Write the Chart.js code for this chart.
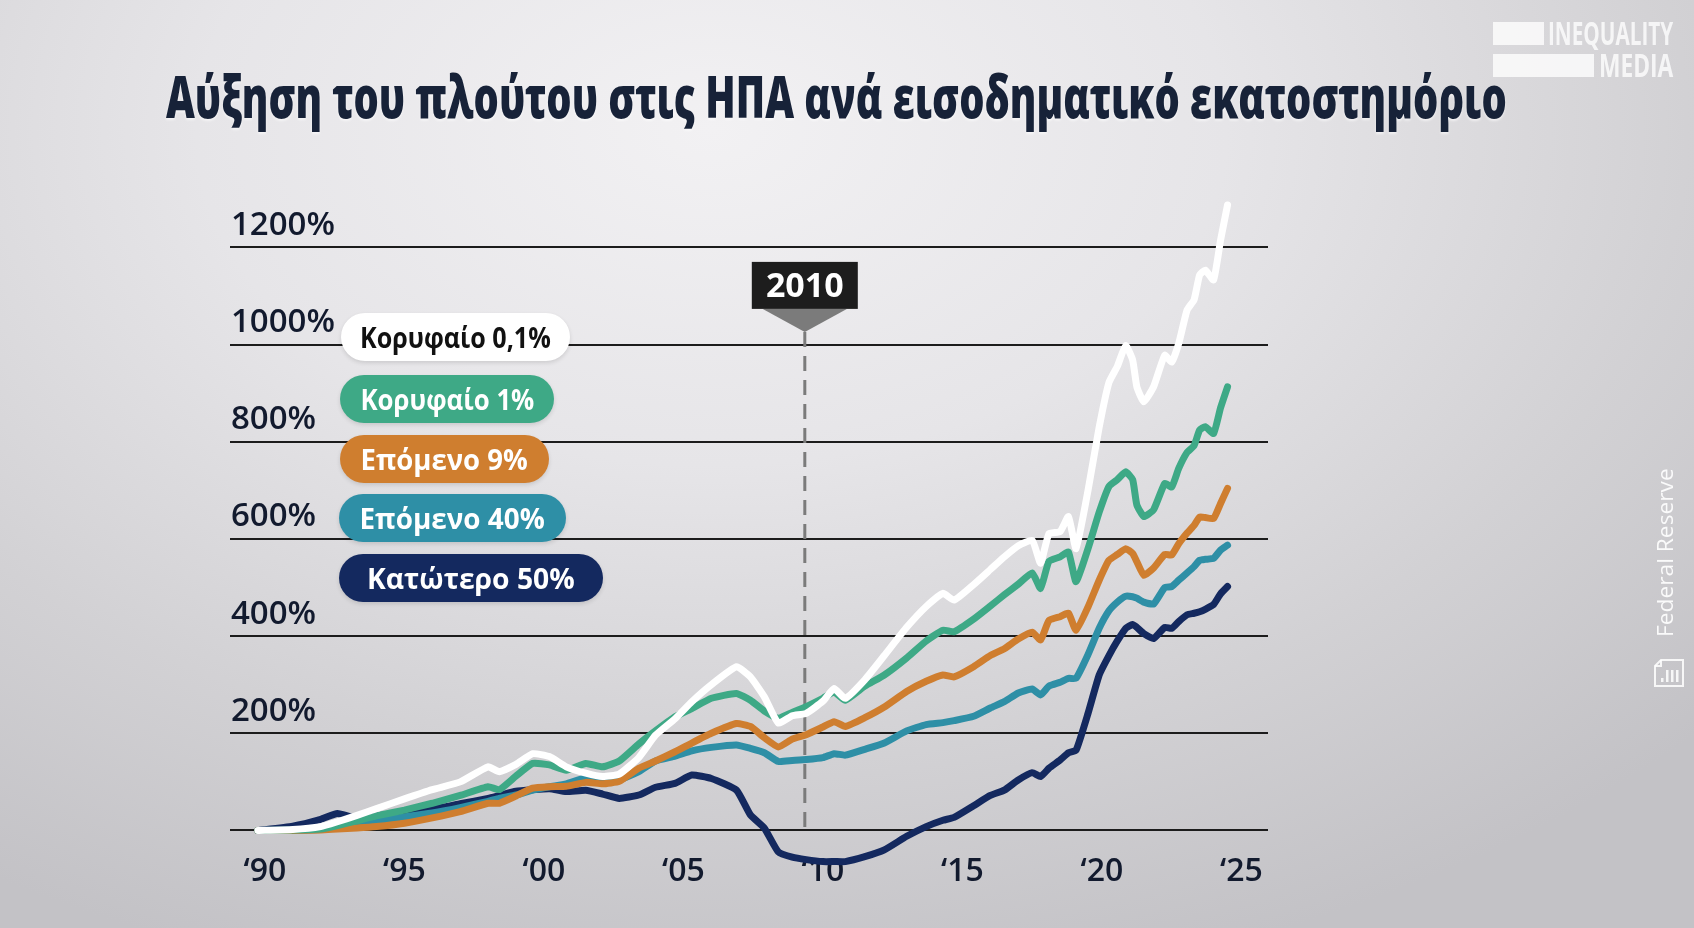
<!DOCTYPE html>
<html lang="el">
<head>
<meta charset="utf-8">
<title>Αύξηση του πλούτου στις ΗΠΑ ανά εισοδηματικό εκατοστημόριο</title>
<script src="https://cdn.jsdelivr.net/npm/chart.js@4.4.1/dist/chart.umd.min.js"></script>
<style>
    html, body { margin: 0; padding: 0; }
    body {
        width: 1694px;
        height: 928px;
        overflow: hidden;
        position: relative;
        font-family: 'Open Sans', 'Noto Sans', sans-serif;
        background: radial-gradient(ellipse 80% 95% at 42% 14%, #f2f1f3 0%, #e6e5e8 38%, #d2d1d4 72%, #c3c2c6 100%);
    }
    #chart { position: absolute; left: 0; top: 0; }
    .fit { display: inline-block; white-space: nowrap; }
    #title {
        position: absolute;
        left: 166px;
        top: 67px;
        font: 800 58px/58px 'Open Sans', sans-serif;
        color: #172238;
        text-shadow: 0 2px 3px rgba(255, 255, 255, 0.6);
        white-space: nowrap;
    }
    .logo-bar { position: absolute; height: 23px; background: rgba(255, 255, 255, 0.78); }
    .logo-text {
        position: absolute;
        font: 700 32px/32px 'Open Sans', sans-serif;
        color: rgba(255, 255, 255, 0.78);
        white-space: nowrap;
    }
    .pill {
        position: absolute;
        height: 48px;
        border-radius: 24px;
        display: flex;
        align-items: center;
        justify-content: center;
        font: 700 28px/48px 'Open Sans', sans-serif;
        box-shadow: 0 2px 4px rgba(0, 0, 0, 0.12);
    }
    #source {
        position: absolute;
        left: 1580px;
        top: 541px;
        width: 169px;
        height: 24px;
        display: flex;
        align-items: center;
        justify-content: center;
        transform: rotate(-90deg);
        font: 400 21px/24px 'Open Sans', sans-serif;
        color: rgba(255, 255, 255, 0.9);
    }
</style>
</head>
<body>
<canvas id="chart" width="1694" height="928" style="width:1694px;height:928px"></canvas>

<div id="title"><span class="fit" id="titleText">Αύξηση του πλούτου στις ΗΠΑ ανά εισοδηματικό εκατοστημόριο</span></div>

<div class="logo-bar" style="left:1493px; top:22px; width:51px"></div>
<div class="logo-text" style="left:1548px; top:17px"><span class="fit" id="logo1">INEQUALITY</span></div>
<div class="logo-bar" style="left:1493px; top:54px; width:101px"></div>
<div class="logo-text" style="left:1599px; top:49px"><span class="fit" id="logo2">MEDIA</span></div>

<div id="legend"></div>

<div id="source"><span class="fit" id="sourceText">Federal Reserve</span></div>
<svg style="position:absolute; left:1652px; top:658px" width="34" height="30" viewBox="0 0 34 30">
    <g fill="none" stroke="rgba(255,255,255,0.85)" stroke-width="2">
        <path d="M9 2 H31 V28 H3 V8 Z"/>
        <path d="M3 8 H9 V2"/>
    </g>
    <g fill="rgba(255,255,255,0.85)">
        <rect x="9" y="20" width="2.5" height="4"/>
        <rect x="14" y="12" width="2.5" height="12"/>
        <rect x="19" y="12" width="2.5" height="12"/>
        <rect x="24" y="12" width="2.5" height="12"/>
    </g>
</svg>

<script>
const years = [1989.75, 1991, 1992, 1992.6, 1993.3, 1994, 1995, 1996, 1997, 1998,
    1998.4, 1999, 1999.6, 2000.2, 2000.8, 2001.5, 2002.1, 2002.7, 2003.4, 2004,
    2004.7, 2005.3, 2006, 2006.9, 2007.4, 2007.9, 2008.4, 2008.9, 2009.4, 2010,
    2010.4, 2010.8, 2011.5, 2012.2, 2013, 2013.7, 2014.3, 2014.7, 2015.4, 2016,
    2016.5, 2017, 2017.5, 2017.8, 2018.1, 2018.5, 2018.8, 2019.07, 2019.5, 2019.9,
    2020.25, 2020.55, 2020.85, 2021.1, 2021.25, 2021.5, 2021.85, 2022.25, 2022.5, 2022.75,
    2023.05, 2023.3, 2023.5, 2023.7, 2024, 2024.25, 2024.5];

const top01 = [0, 2, 8, 18, 31, 45, 65, 84, 100, 131,
    121, 136, 158, 152, 131, 118, 111, 116, 150, 196,
    230, 265, 300, 337, 316, 275, 221, 236, 241, 266,
    292, 272, 310, 360, 418, 461, 488, 474, 506, 537,
    563, 586, 597, 550, 611, 615, 646, 580, 700, 830,
    922, 955, 998, 968, 913, 882, 913, 978, 964, 1002,
    1071, 1092, 1143, 1153, 1133, 1215, 1287];

const top1 = [0, 1, 3, 10, 20, 30, 42, 56, 72, 90,
    84, 112, 138, 135, 124, 138, 131, 143, 178, 205,
    234, 251, 272, 282, 268, 246, 231, 243, 255, 272,
    285, 268, 297, 320, 355, 390, 412, 409, 435, 462,
    485, 507, 530, 498, 554, 563, 573, 512, 580, 655,
    708, 722, 738, 722, 670, 646, 660, 714, 707, 745,
    778, 792, 824, 831, 817, 870, 913];

const next9 = [0, 0, 1, 3, 5, 8, 15, 26, 39, 56,
    56, 71, 87, 90, 91, 99, 96, 101, 128, 143,
    162, 180, 200, 220, 214, 191, 172, 188, 197, 213,
    224, 214, 232, 254, 286, 307, 320, 316, 337, 360,
    374, 394, 408, 392, 432, 440, 447, 412, 460, 515,
    556, 568, 580, 570, 553, 525, 540, 568, 567, 590,
    612, 628, 645, 644, 642, 673, 704];

const next40 = [0, 0, 2, 6, 12, 19, 28, 36, 47, 60,
    66, 73, 83, 90, 96, 108, 98, 104, 121, 143,
    153, 164, 171, 176, 169, 160, 142, 144, 146, 150,
    158, 155, 167, 180, 205, 218, 222, 226, 235, 252,
    265, 283, 291, 279, 297, 305, 313, 313, 362, 416,
    452, 470, 482, 481, 478, 470, 466, 500, 502, 515,
    530, 543, 556, 558, 560, 577, 587];

const bottom50 = [0, 9, 23, 35, 25, 30, 38, 44, 55, 66,
    72, 81, 84, 86, 80, 83, 75, 66, 73, 89,
    97, 114, 107, 83, 32, 5, -44, -55, -60, -64,
    -64, -64, -54, -40, -12, 8, 21, 27, 51, 72,
    83, 104, 119, 111, 128, 145, 160, 165, 241, 320,
    360, 390, 416, 424, 418, 405, 395, 418, 416, 430,
    444, 447, 450, 455, 465, 487, 502];

const xTicks = [1990, 1995, 2000, 2005, 2010, 2015, 2020, 2025];
const yTicks = [0, 200, 400, 600, 800, 1000, 1200];

const seriesNames = ['Κορυφαίο 0,1%', 'Κορυφαίο 1%', 'Επόμενο 9%', 'Επόμενο 40%', 'Κατώτερο 50%'];
const seriesData = [top01, top1, next9, next40, bottom50];
const seriesColors = ['#ffffff', '#3ea986', '#cf7e2f', '#2e8fa6', '#14295f'];
const pillTextColors = ['#111111', '#ffffff', '#ffffff', '#ffffff', '#ffffff'];

const markerYear = 2009.35;
const markerLabel = '2010';
const markerTip = 1026;

// legend pill layout: left, top, width, text width
const pillBoxes = [
    [341, 313, 229, 191],
    [340, 375, 214, 174],
    [340, 435, 209, 167],
    [339, 494, 227, 185],
    [339, 554, 264, 208]
];

function squeeze(el, target, origin) {
    el.style.transform = '';
    const w = el.offsetWidth;
    if (w > 0) {
        el.style.transformOrigin = origin || 'left center';
        el.style.transform = `scaleX(${(target / w).toFixed(4)})`;
    }
}

function buildLegend() {
    const legend = document.getElementById('legend');
    seriesNames.forEach((name, i) => {
        const [left, top, width, textWidth] = pillBoxes[i];
        const pill = document.createElement('div');
        pill.className = 'pill';
        pill.style.left = left + 'px';
        pill.style.top = top + 'px';
        pill.style.width = width + 'px';
        pill.style.background = seriesColors[i];
        pill.style.color = pillTextColors[i];
        const span = document.createElement('span');
        span.className = 'fit';
        span.textContent = name;
        pill.appendChild(span);
        legend.appendChild(pill);
        squeeze(span, textWidth, 'center center');
    });
}

const markerPlugin = {
    id: 'marker2010',
    beforeDatasetsDraw(chart) {
        const { ctx, scales: { x, y } } = chart;
        const px = x.getPixelForValue(markerYear);
        ctx.save();
        ctx.strokeStyle = '#7b7b7b';
        ctx.lineWidth = 3;
        ctx.setLineDash([15, 9]);
        ctx.beginPath();
        ctx.moveTo(px, y.getPixelForValue(markerTip));
        ctx.lineTo(px, y.getPixelForValue(0));
        ctx.stroke();
        ctx.restore();
    },
    afterDatasetsDraw(chart) {
        const { ctx, scales: { x, y } } = chart;
        const px = x.getPixelForValue(markerYear);
        const tip = y.getPixelForValue(markerTip);
        ctx.save();
        ctx.fillStyle = '#7b7b7b';
        ctx.beginPath();
        ctx.moveTo(px - 42, tip - 23);
        ctx.lineTo(px + 42, tip - 23);
        ctx.lineTo(px, tip);
        ctx.closePath();
        ctx.fill();
        ctx.fillStyle = '#1d1d1d';
        ctx.fillRect(px - 53, tip - 70, 106, 47);
        ctx.fillStyle = '#ffffff';
        ctx.font = '700 34px "Open Sans"';
        ctx.textAlign = 'center';
        ctx.textBaseline = 'alphabetic';
        ctx.fillText(markerLabel, px, tip - 35);
        ctx.restore();
    }
};

function drawChart() {
    const datasets = seriesData.map((values, i) => ({
        label: seriesNames[i],
        data: years.map((yr, j) => ({ x: yr, y: values[j] })),
        borderColor: seriesColors[i],
        borderWidth: 7,
        borderCapStyle: 'round',
        borderJoinStyle: 'round',
        tension: 0.15,
        pointRadius: 0,
        fill: false,
        clip: false
    }));

    new Chart(document.getElementById('chart'), {
        type: 'line',
        data: { datasets },
        options: {
            responsive: false,
            animation: false,
            layout: { padding: { left: 230, right: 426, top: 179.3, bottom: 43.8 } },
            plugins: {
                legend: { display: false },
                tooltip: { enabled: false }
            },
            scales: {
                x: {
                    type: 'linear',
                    min: 1988.75,
                    max: 2025.95,
                    afterBuildTicks: (scale) => { scale.ticks = xTicks.map(v => ({ value: v })); },
                    afterFit: (scale) => { scale.height = 44; },
                    grid: { display: false },
                    border: { display: false },
                    ticks: {
                        autoSkip: false,
                        maxRotation: 0,
                        padding: 4,
                        color: '#121a2e',
                        font: { family: 'Open Sans', size: 32, weight: '600' },
                        callback: (v) => '‘' + String(v).slice(2)
                    }
                },
                y: {
                    min: -20,
                    max: 1340,
                    afterBuildTicks: (scale) => { scale.ticks = yTicks.map(v => ({ value: v })); },
                    afterFit: (scale) => { scale.width = 0; },
                    grid: { color: '#1c1c1c', lineWidth: 2, drawTicks: false },
                    border: { display: false },
                    ticks: {
                        mirror: true,
                        padding: 1,
                        labelOffset: -22,
                        color: '#121a2e',
                        font: { family: 'Open Sans', size: 33, weight: '600' },
                        callback: (v) => (v === 0 ? '' : v + '%')
                    }
                }
            }
        },
        plugins: [markerPlugin]
    });
}

document.fonts.ready.then(() => {
    squeeze(document.getElementById('titleText'), 1341);
    squeeze(document.getElementById('logo1'), 125);
    squeeze(document.getElementById('logo2'), 74);
    squeeze(document.getElementById('sourceText'), 169, 'center center');
    buildLegend();
    drawChart();
});
</script>
</body>
</html>
